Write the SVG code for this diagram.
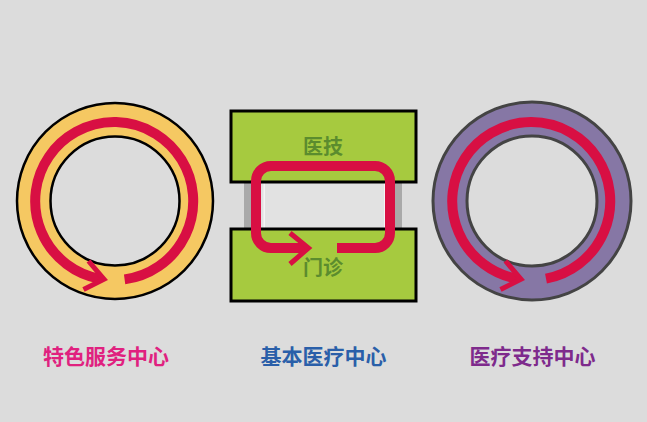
<svg xmlns="http://www.w3.org/2000/svg" width="647" height="422" viewBox="0 0 647 422">
  <style>
    .flow { fill: none; stroke: #D80F43; stroke-width: 10; stroke-linecap: butt; }
    .head { fill: none; stroke: #D80F43; stroke-width: 5; stroke-linejoin: miter; stroke-linecap: butt; }
    .lbl { font-family: "Noto Sans CJK SC", "Noto Sans", sans-serif; font-weight: bold; text-anchor: middle; }
    .box { fill: #A6CA3F; stroke: #000; stroke-width: 3; }
  </style>
  <rect width="647" height="422" fill="#DCDCDC"/>

  <g id="special-center">
    <circle cx="115" cy="201" r="81.5" fill="none" stroke="#F5C862" stroke-width="33"/>
    <circle cx="115" cy="201" r="98" fill="none" stroke="#000" stroke-width="2.5"/>
    <circle cx="115" cy="201" r="64.5" fill="none" stroke="#000" stroke-width="2.5"/>
    <text class="lbl" x="106" y="364" font-size="21" fill="#E0217F">特色服务中心</text>
  </g>

  <g id="basic-center">
    <rect x="244" y="181" width="158" height="47" fill="#E2E2E2"/>
    <rect x="244" y="181" width="7" height="47" fill="#A9A9A9"/>
    <rect x="395" y="181" width="7" height="47" fill="#A9A9A9"/>
    <rect x="263.5" y="181" width="1.5" height="47" fill="#F4F4F4"/>
    <rect x="384" y="181" width="1.5" height="47" fill="#F4F4F4"/>
    <rect class="box" x="231" y="111" width="185" height="71"/>
    <rect class="box" x="231" y="229" width="185" height="72"/>
    <text class="lbl" x="323" y="154" font-size="20" fill="#5B8C2E">医技</text>
    <text class="lbl" x="323" y="275" font-size="20" fill="#5B8C2E">门诊</text>
    <text class="lbl" x="323.5" y="364" font-size="21" fill="#2A5FA9">基本医疗中心</text>
  </g>

  <g id="support-center">
    <circle cx="532" cy="201" r="82" fill="none" stroke="#8677A5" stroke-width="34"/>
    <circle cx="532" cy="201" r="99" fill="none" stroke="#444" stroke-width="3"/>
    <circle cx="532" cy="201" r="65" fill="none" stroke="#444" stroke-width="3"/>
    <text class="lbl" x="532.5" y="364" font-size="21" fill="#7E2A8C">医疗支持中心</text>
  </g>

  <g id="connectors">
    <path class="flow" d="M124.6,279.4 A79,79 0 1 0 100,278.8"/>
    <polyline class="head" points="88.5,261 104,279.3 83.5,289.5"/>
    <path class="flow" d="M337,248 H375 A15,15 0 0 0 390,233 V181 A15,15 0 0 0 375,166 H271 A15,15 0 0 0 256,181 V233 A15,15 0 0 0 271,248 H305"/>
    <polyline class="head" points="290,233 308.5,248 290,264"/>
    <path class="flow" d="M546,278.7 A79,79 0 1 0 517,278.8"/>
    <polyline class="head" points="505.5,261 521,279.3 500.5,289.5"/>
  </g>
</svg>
